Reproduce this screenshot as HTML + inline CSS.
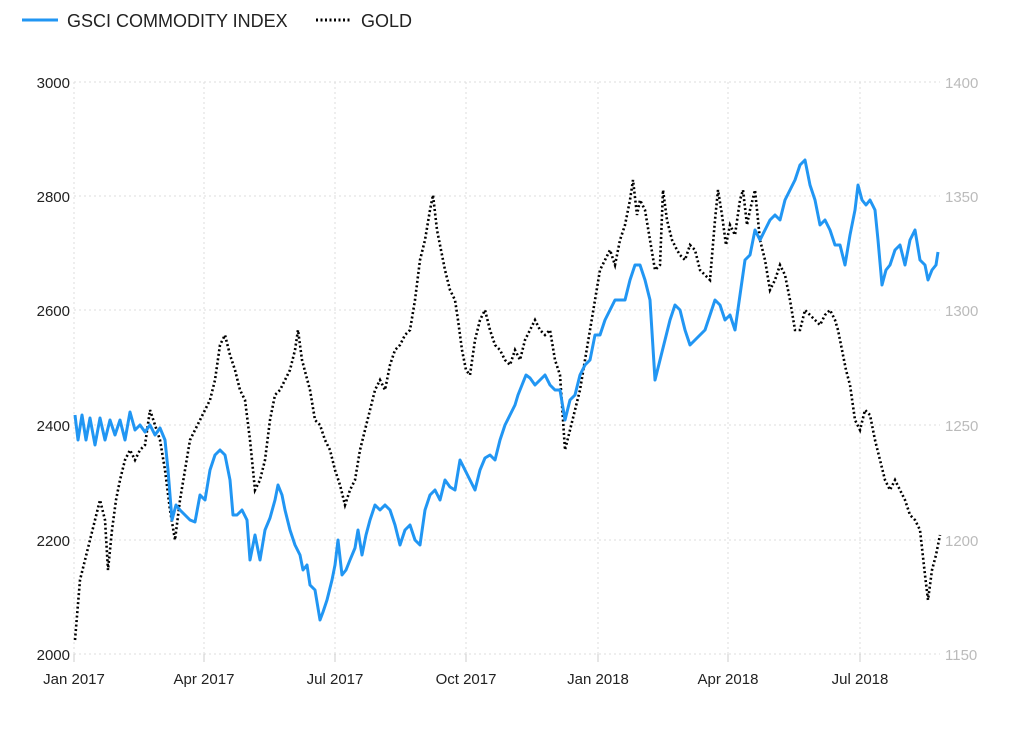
<!DOCTYPE html>
<html><head><meta charset="utf-8"><style>body{margin:0;background:#fff}svg{display:block;font-family:"Liberation Sans",sans-serif}</style></head><body>
<svg width="1024" height="740" viewBox="0 0 1024 740">
<line x1="22" y1="20" x2="58" y2="20" stroke="#2196f3" stroke-width="3"/>
<text x="67" y="27" font-size="18" fill="#222">GSCI COMMODITY INDEX</text>
<line x1="316" y1="20" x2="352" y2="20" stroke="#000" stroke-width="3" stroke-dasharray="2,2.5"/>
<text x="361" y="27" font-size="18" fill="#222">GOLD</text>
<g stroke="#ddd" stroke-width="1" stroke-dasharray="2,3">
<line x1="74" y1="82" x2="940" y2="82"/><line x1="74" y1="196" x2="940" y2="196"/><line x1="74" y1="310" x2="940" y2="310"/><line x1="74" y1="425" x2="940" y2="425"/><line x1="74" y1="540" x2="940" y2="540"/><line x1="74" y1="654" x2="940" y2="654"/>
<line x1="74" y1="82" x2="74" y2="654"/><line x1="204" y1="82" x2="204" y2="654"/><line x1="335" y1="82" x2="335" y2="654"/><line x1="466" y1="82" x2="466" y2="654"/><line x1="598" y1="82" x2="598" y2="654"/><line x1="728" y1="82" x2="728" y2="654"/><line x1="860" y1="82" x2="860" y2="654"/>
</g>
<g stroke="#ccc"><line x1="74" y1="654" x2="74" y2="662"/><line x1="204" y1="654" x2="204" y2="662"/><line x1="335" y1="654" x2="335" y2="662"/><line x1="466" y1="654" x2="466" y2="662"/><line x1="598" y1="654" x2="598" y2="662"/><line x1="728" y1="654" x2="728" y2="662"/><line x1="860" y1="654" x2="860" y2="662"/></g>
<g font-size="15" fill="#222" text-anchor="end">
<text x="70" y="88">3000</text><text x="70" y="202">2800</text><text x="70" y="316">2600</text><text x="70" y="431">2400</text><text x="70" y="546">2200</text><text x="70" y="660">2000</text></g>
<g font-size="15" fill="#bbb">
<text x="945" y="88">1400</text><text x="945" y="202">1350</text><text x="945" y="316">1300</text><text x="945" y="431">1250</text><text x="945" y="546">1200</text><text x="945" y="660">1150</text></g>
<g font-size="15" fill="#222" text-anchor="middle">
<text x="74" y="684">Jan 2017</text><text x="204" y="684">Apr 2017</text><text x="335" y="684">Jul 2017</text><text x="466" y="684">Oct 2017</text><text x="598" y="684">Jan 2018</text><text x="728" y="684">Apr 2018</text><text x="860" y="684">Jul 2018</text></g>
<polyline fill="none" stroke="#000" stroke-width="2.6" stroke-dasharray="2,2.5" points="75,640 80,580 85,560 90,540 95,520 100,500 105,520 108,570 112,530 116,500 120,480 125,460 130,450 135,460 140,450 145,445 150,410 155,425 160,440 165,470 170,510 175,540 180,500 185,470 190,440 195,430 200,420 205,410 210,400 215,380 220,345 225,335 230,355 235,370 240,390 245,400 250,440 255,490 260,480 265,460 270,420 275,395 280,390 285,380 290,370 295,350 298,330 302,360 306,375 310,390 315,420 320,425 325,440 330,450 335,470 340,485 345,505 350,490 355,480 360,450 365,430 370,410 375,390 380,380 385,390 390,365 395,350 400,345 405,335 410,330 415,300 420,260 425,240 430,210 433,195 437,230 440,245 445,270 450,290 455,300 458,320 462,350 466,370 470,375 475,340 480,320 485,310 490,330 495,345 500,350 505,360 510,365 515,350 520,360 525,340 530,330 535,320 540,330 545,335 550,330 555,360 560,375 565,450 570,430 575,410 580,390 585,360 590,330 595,300 600,270 605,260 610,250 615,265 620,240 625,225 630,200 633,180 637,215 640,200 645,210 650,240 655,270 660,265 663,190 667,220 672,240 677,250 680,255 685,260 690,245 695,250 700,270 705,275 710,280 715,220 718,190 722,215 726,245 730,225 735,235 740,200 743,190 747,225 750,210 755,190 760,240 765,260 770,290 775,280 780,265 785,275 790,300 795,330 800,330 805,310 810,315 815,320 820,325 825,315 830,310 835,320 838,330 842,350 846,370 850,385 855,420 860,430 865,410 870,415 875,440 880,460 885,480 890,490 895,480 900,490 905,500 910,515 915,520 920,530 925,575 928,600 932,570 936,555 940,535"/>
<polyline fill="none" stroke="#2196f3" stroke-width="3" stroke-linejoin="round" points="75,415 78,440 82,415 86,440 90,418 95,445 100,418 105,440 110,420 115,435 120,420 125,440 130,412 135,430 140,425 145,432 150,425 155,435 160,428 165,440 168,470 172,520 176,505 180,510 185,515 190,520 195,522 200,495 205,500 210,470 215,455 220,450 225,455 230,480 233,515 237,515 242,510 247,520 250,560 255,535 260,560 265,530 270,518 275,500 278,485 282,495 285,510 290,530 295,545 300,555 303,570 307,565 310,585 315,590 320,620 323,612 327,600 332,580 335,565 338,540 342,575 346,570 350,560 355,548 358,530 362,555 366,535 370,520 375,505 380,510 385,505 390,510 395,525 400,545 405,530 410,525 415,540 420,545 425,510 430,495 435,490 440,500 445,480 450,487 455,490 460,460 465,470 470,480 475,490 480,470 485,458 490,455 495,460 500,440 505,425 510,415 515,405 518,395 522,385 526,375 530,378 535,385 540,380 545,375 550,385 555,390 560,390 565,420 570,400 575,395 580,375 585,365 590,360 595,335 600,335 605,320 610,310 615,300 620,300 625,300 630,280 635,265 640,265 645,280 650,300 655,380 660,360 665,340 670,320 675,305 680,310 685,330 690,345 695,340 700,335 705,330 710,315 715,300 720,305 725,320 730,315 735,330 740,295 745,260 750,255 755,230 760,240 765,230 770,220 775,215 780,220 785,200 790,190 795,180 800,165 805,160 810,185 815,200 820,225 825,220 830,230 835,245 840,245 845,265 850,235 855,210 858,185 862,200 866,205 870,200 875,210 878,240 882,285 886,270 890,265 895,250 900,245 905,265 910,240 915,230 920,260 925,265 928,280 932,270 936,265 938,252"/>
</svg>
</body></html>
